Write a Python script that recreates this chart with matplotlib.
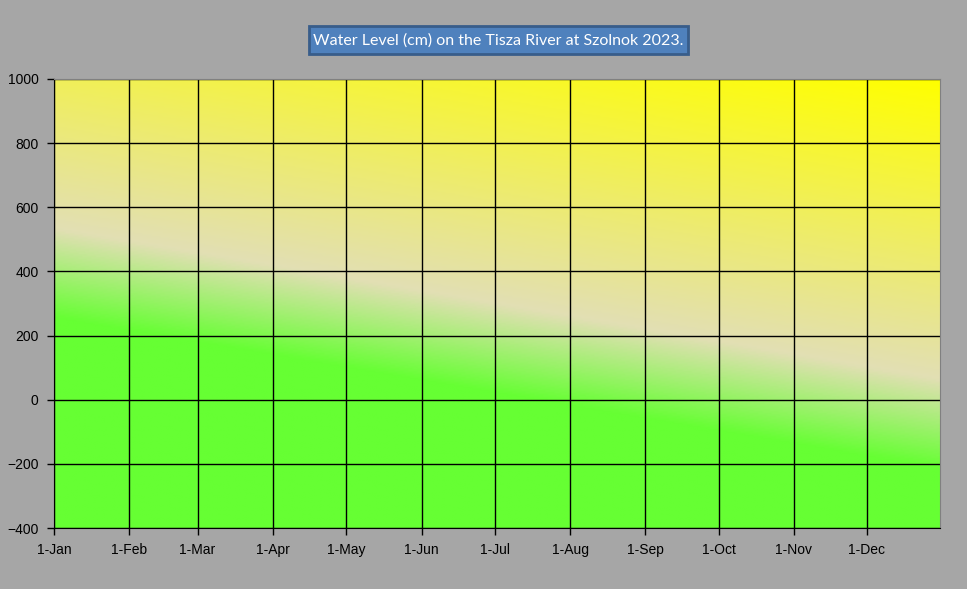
import numpy as np
import pandas as pd
import matplotlib
matplotlib.use('Agg')
import matplotlib.pyplot as plt
import matplotlib.dates as mdates
from matplotlib.colors import LinearSegmentedColormap
from matplotlib.patches import Rectangle

#
# Chart settings (the chart has no series, only the frame)
#
title = 'Water Level (cm) on the Tisza River at Szolnok 2023.'
x_start = pd.Timestamp('2023-01-01')
x_end = pd.Timestamp('2023-12-31')
month_ticks = pd.date_range('2023-01-01', '2023-12-01', freq='MS')
y_ticks = [-400, -200, 0, 200, 400, 600, 800, 1000]

W, H = 967, 589
fig = plt.figure(figsize=(W / 100, H / 100), dpi=100, facecolor='#a6a6a6')
ax = fig.add_axes([54 / W, (H - 528) / H, 886 / W, 449 / H])

#
# Diagonal background gradient: green -> cream -> yellow
#
cmap = LinearSegmentedColormap.from_list(
    'bg', [(0.0, '#66ff33'), (0.35, '#66ff33'), (0.5, '#e2dfb4'), (1.0, '#ffff00')])
fx, fy = np.meshgrid(np.linspace(0, 1, 400), np.linspace(0, 1, 300))
t = (449 * fy + 151 * fx) / 600
ax.imshow(t, cmap=cmap, vmin=0, vmax=1, origin='lower', extent=[0, 1, 0, 1],
          transform=ax.transAxes, aspect='auto', zorder=0, interpolation='bilinear')

ax.set_xlim(x_start, x_end)
ax.set_ylim(y_ticks[0], y_ticks[-1])
ax.set_xticks(month_ticks)
ax.xaxis.set_major_formatter(mdates.DateFormatter('1-%b'))
ax.set_yticks(y_ticks)

ax.set_axisbelow(True)
ax.grid(True, color='black', linewidth=1.0)

for side in ['top', 'right']:
    ax.spines[side].set_color('#808080')
for side in ['left', 'bottom']:
    ax.spines[side].set_color('black')
ax.tick_params(direction='out', length=5, width=1, colors='black', pad=6,
               labelsize=10)
for lbl in ax.get_xticklabels() + ax.get_yticklabels():
    lbl.set_fontfamily('Liberation Sans')

#
# Title box
#
fig.patches.append(Rectangle((309 / W, 1 - 54 / H), 379 / W, 28 / H,
                             transform=fig.transFigure, facecolor='#4f81bd',
                             edgecolor='#385d8a', linewidth=2))
fig.text(498.5 / W, 1 - 41 / H, title, ha='center', va='center', color='white',
         fontsize=11.5, family='Lato')

fig.savefig('out.png', dpi=100, facecolor=fig.get_facecolor())
